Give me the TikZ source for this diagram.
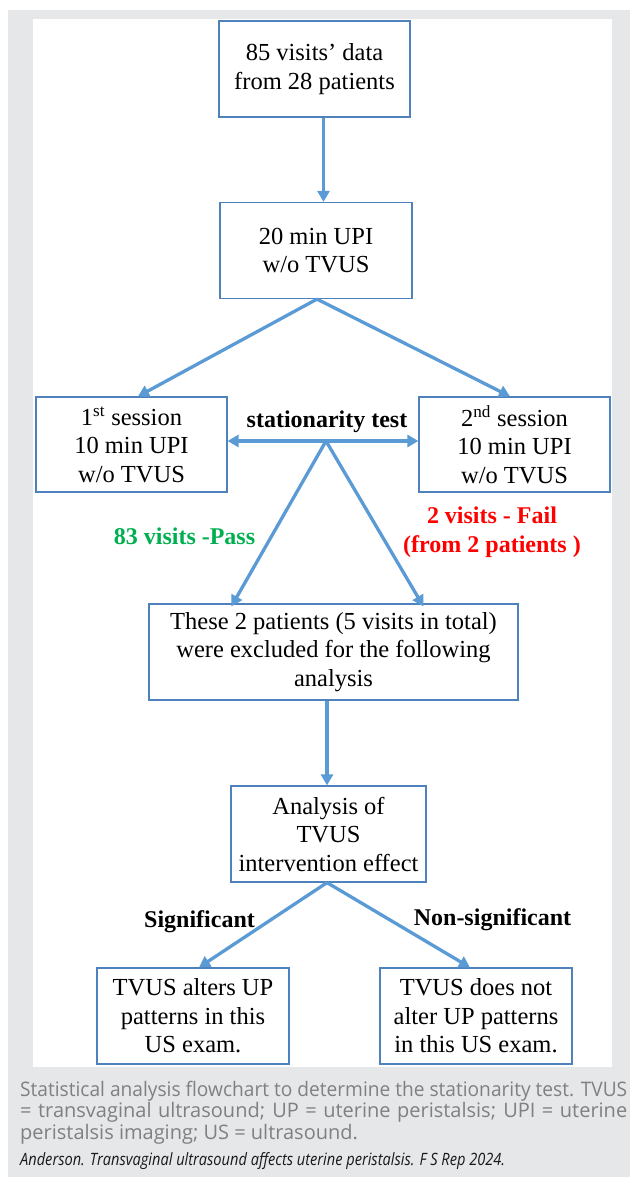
\documentclass[tikz,border=0pt]{standalone}
\usepackage{fontspec}
\setmainfont{Liberation Serif}
\newfontfamily\capfont{Open Sans}
\usetikzlibrary{arrows.meta,calc}
\definecolor{conn}{HTML}{5B9BD5}
\definecolor{boxc}{HTML}{4F81BD}
\definecolor{bgray}{HTML}{E6E7E8}
\definecolor{capgray}{HTML}{7F8083}
\definecolor{passg}{HTML}{00B050}
\definecolor{failr}{HTML}{FF0000}
\begin{document}
\begin{tikzpicture}[x=1pt,y=-1pt,
  box/.style={draw=boxc, line width=1.2pt, align=center, inner sep=0pt,
    minimum height=96pt, font=\fontsize{24.5}{28.5}\selectfont},
  conn/.style={draw=conn, line width=3.3pt, -{Triangle[length=11pt,width=12pt]}},
  dconn/.style={draw=conn, line width=3.3pt, {Triangle[length=11pt,width=12pt]}-{Triangle[length=11pt,width=12pt]}},
  lab/.style={inner sep=0pt, align=center, font=\bfseries\fontsize{24}{29}\selectfont},
  captext/.style={inner sep=0pt, anchor=base west}
]
% background
\fill[white] (0,0) rectangle (630,1177);
\fill[bgray] (8,10) rectangle (630,1177);
\fill[white] (33,19) rectangle (612,1067);

% boxes
\node[box, minimum width=191pt] (box1) at (314.5,69) {85 visits’ data\\from 28 patients};
\node[box, minimum width=192pt] (box2) at (316,250.5) {20 min UPI\\w/o TVUS};
\node[box, minimum width=191pt, minimum height=95pt] (s1) at (131.5,444.5) {1\textsuperscript{st} session\\10 min UPI\\w/o TVUS};
\node[box, minimum width=191pt, minimum height=95pt] (s2) at (514.5,444.5) {2\textsuperscript{nd} session\\10 min UPI\\w/o TVUS};
\node[box, minimum width=369pt] (excl) at (333.5,652) {These 2 patients (5 visits in total)\\were excluded for the following\\analysis};
\node[box, minimum width=195pt] (anal) at (328.5,834) {Analysis of\\TVUS\\intervention effect};
\node[box, minimum width=192pt] (sig) at (193,1016) {TVUS alters UP\\patterns in this\\US exam.};
\node[box, minimum width=192pt] (nsig) at (476,1016) {TVUS does not\\alter UP patterns\\in this US exam.};

% labels
\node[lab] (stt) at (327,422) {stationarity test};
\node[lab, text=passg] (pass) at (184.5,536) {83 visits -Pass};
\node[lab, text=failr] (fail) at (492,532) {2 visits - Fail\\(from 2 patients )};
\node[lab] (sigl) at (199.5,922) {Significant};
\node[lab] (nsigl) at (492.5,920) {Non-significant};

% connectors
\draw[conn] ($(box1.south)+(9,0)$) -- ($(box2.north)+(7.5,0)$);
\coordinate (ap1) at ($(box2.south)+(1,0)$);
\draw[conn] (ap1) -- ($(s1.north)+(6.5,0)$);
\draw[conn] (ap1) -- ($(s2.north)+(-4.5,0)$);
\coordinate (st) at (326,441);
\draw[dconn] (s1.east |- st) -- (s2.west |- st);
\draw[conn] (st) -- ($(excl.north west)+(83,3)$);
\draw[conn] (st) -- ($(excl.north west)+(275,3)$);
\draw[conn] ($(excl.south)+(-6.5,0)$) -- ($(anal.north)+(-1.5,0)$);
\coordinate (ap2) at ($(anal.south)+(-1.5,0)$);
\draw[conn] (ap2) -- ($(sig.north)+(6,0)$);
\draw[conn] (ap2) -- ($(nsig.north)+(-6,0)$);

% caption
\node[captext, text=capgray] (c1) at (20,1096) {\resizebox{607pt}{\height}{\capfont\fontsize{20}{22}\selectfont Statistical analysis flowchart to determine the stationarity test. TVUS}};
\node[captext, text=capgray] (c2) at (20,1117.5) {\capfont\fontsize{20}{22}\selectfont\makebox[607pt][s]{= transvaginal ultrasound; UP = uterine peristalsis; UPI = uterine}};
\node[captext, text=capgray] (c3) at (20,1139) {\capfont\fontsize{20}{22}\selectfont peristalsis imaging; US = ultrasound.};
\node[captext, text=black!90] (c4) at (20,1165) {\resizebox{485pt}{\height}{\capfont\itshape\fontsize{17}{20}\selectfont Anderson. Transvaginal ultrasound affects uterine peristalsis. F S Rep 2024.}};
\end{tikzpicture}
\end{document}
